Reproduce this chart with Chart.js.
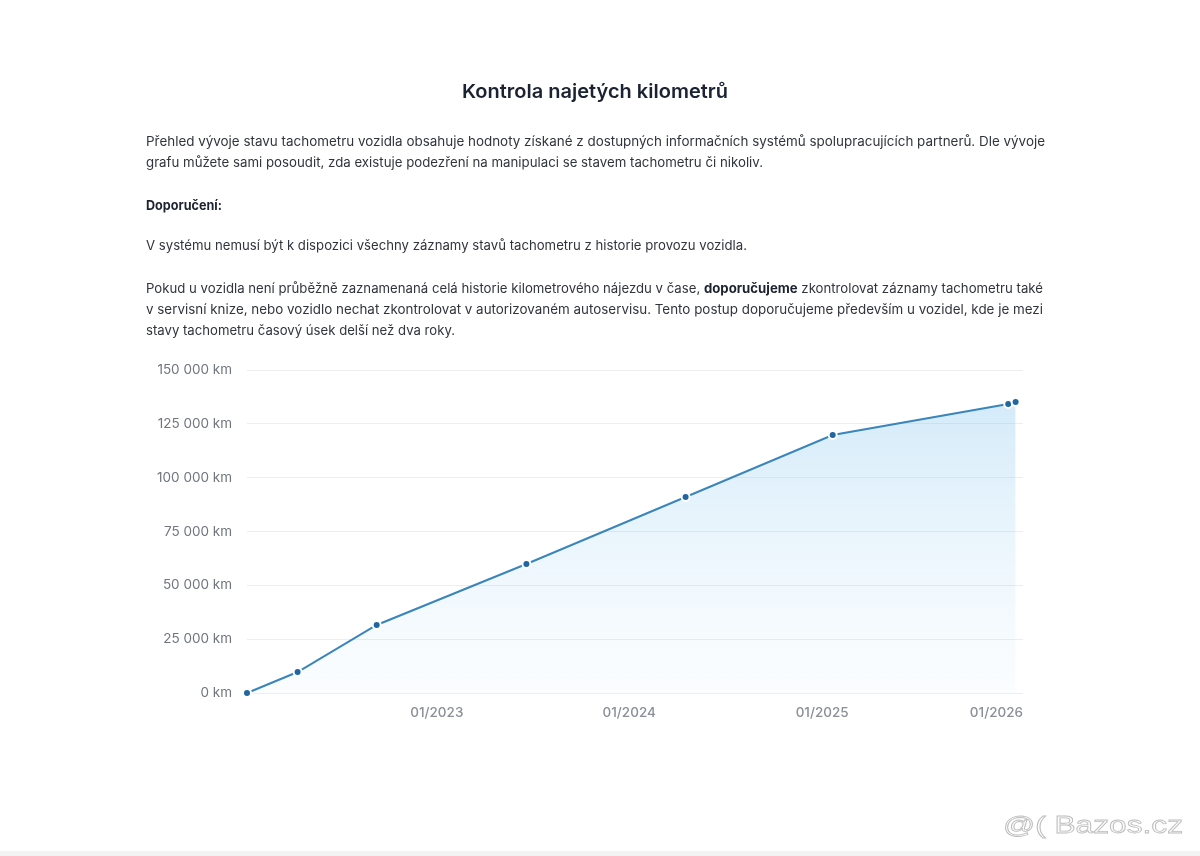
<!DOCTYPE html>
<html lang="cs">
<head>
<meta charset="utf-8">
<script src="https://cdn.jsdelivr.net/npm/chart.js@4.4.1/dist/chart.umd.min.js"></script>
<style>
  html, body { margin: 0; padding: 0; background: #ffffff; }
  body { width: 1200px; height: 856px; position: relative; overflow: hidden; font-family: Inter, "Noto Sans", sans-serif; }
  #chart { position: absolute; left: 0; top: 0; z-index: 1; }
  .ln { position: absolute; left: 146px; white-space: nowrap; font-size: 13px; line-height: 1; color: #30343c; transform-origin: 0 0; z-index: 2; display: inline-block; }
  .ln b { font-weight: 700; color: #1c2230; }
  #title { position: absolute; left: 462px; top: 82px; font-size: 19px; line-height: 1; font-weight: 600; color: #1b2232; white-space: nowrap; transform-origin: 0 0; display: inline-block; z-index: 2; }
  #wm { position: absolute; left: 1003px; top: 813px; font-family: "Liberation Sans", Arial, sans-serif; font-size: 24px; line-height: 1; color: #fbfbfb; -webkit-text-stroke: 0.8px #bdbdbd; white-space: nowrap; transform-origin: 0 0; display: inline-block; z-index: 2; }
  #strip { position: absolute; left: 0; top: 851px; width: 1200px; height: 5px; background: #f3f3f3; }
</style>
</head>
<body>
<canvas id="chart" width="1200" height="856"></canvas>

<div id="title" class="fit" data-w="266">Kontrola najetých kilometrů</div>

<div class="ln fit" data-w="899" style="top:135px">Přehled vývoje stavu tachometru vozidla obsahuje hodnoty získané z dostupných informačních systémů spolupracujících partnerů. Dle vývoje</div>
<div class="ln fit" data-w="617" style="top:156px">grafu můžete sami posoudit, zda existuje podezření na manipulaci se stavem tachometru či nikoliv.</div>
<div class="ln fit" data-w="76" style="top:199px"><b>Doporučení:</b></div>
<div class="ln fit" data-w="601" style="top:239px">V systému nemusí být k dispozici všechny záznamy stavů tachometru z historie provozu vozidla.</div>
<div class="ln fit" data-w="897" style="top:282px">Pokud u vozidla není průběžně zaznamenaná celá historie kilometrového nájezdu v čase, <b>doporučujeme</b> zkontrolovat záznamy tachometru také</div>
<div class="ln fit" data-w="897" style="top:303px">v servisní knize, nebo vozidlo nechat zkontrolovat v autorizovaném autoservisu. Tento postup doporučujeme především u vozidel, kde je mezi</div>
<div class="ln fit" data-w="309" style="top:324px">stavy tachometru časový úsek delší než dva roky.</div>

<div id="wm" class="fit" data-w="180">@( Bazos.cz</div>
<div id="strip"></div>

<script>
// ---- data ----
const readingDates = ['2022-01-06','2022-04-12','2022-09-09','2023-06-20','2024-04-17','2025-01-21','2025-12-20','2026-01-03'];
const odometerKm   = [0, 9750, 31600, 59900, 91000, 119800, 134200, 135100];
const xTickDates   = ['2023-01-01','2024-01-01','2025-01-01','2026-01-01'];
const xTickLabels  = ['01/2023','01/2024','01/2025','01/2026'];
const yTickValues  = [0, 25000, 50000, 75000, 100000, 125000, 150000];
const xRangeEnd    = '2026-01-17';

// ---- fit text lines to measured widths ----
document.querySelectorAll('.fit').forEach(el => {
  const w = el.getBoundingClientRect().width;
  const target = parseFloat(el.dataset.w);
  if (w > 0) el.style.transform = 'scaleX(' + (target / w) + ')';
});

const ts = s => Date.parse(s + 'T00:00:00Z');
const points = readingDates.map((d, i) => ({ x: ts(d), y: odometerKm[i] }));
const fmtKm = v => String(v).replace(/\B(?=(\d{3})+(?!\d))/g, ' ') + ' km';

const xLabelPlugin = {
  id: 'xLabels',
  afterDraw(chart) {
    const xs = chart.scales.x, area = chart.chartArea, ctx = chart.ctx;
    ctx.save();
    ctx.font = '500 13.5px Inter, sans-serif';
    ctx.fillStyle = '#8a8f98';
    ctx.textBaseline = 'middle';
    ctx.textAlign = 'left';
    xTickDates.forEach((d, i) => {
      const px = xs.getPixelForValue(ts(d));
      const w = ctx.measureText(xTickLabels[i]).width;
      let left = px - w / 2;
      if (left + w > area.right) left = area.right - w;
      ctx.fillText(xTickLabels[i], left, xs.top + 20);
    });
    ctx.restore();
  }
};

new Chart(document.getElementById('chart'), {
  type: 'line',
  data: {
    datasets: [{
      data: points,
      clip: 12,
      borderColor: '#3a85bb',
      borderWidth: 2,
      tension: 0,
      pointRadius: 4,
      pointBorderWidth: 2,
      pointBackgroundColor: '#1f66a2',
      pointBorderColor: '#ffffff',
      fill: 'origin',
      backgroundColor: (ctx) => {
        const area = ctx.chart.chartArea;
        if (!area) return 'rgba(120,190,235,0.2)';
        const g = ctx.chart.ctx.createLinearGradient(0, area.top, 0, area.bottom);
        g.addColorStop(0, 'rgba(95,178,232,0.30)');
        g.addColorStop(0.5, 'rgba(120,192,238,0.16)');
        g.addColorStop(1, 'rgba(170,215,245,0.05)');
        return g;
      }
    }]
  },
  options: {
    responsive: false,
    devicePixelRatio: 1,
    animation: false,
    events: [],
    layout: { padding: { left: 140, top: 370, right: 177, bottom: 133 } },
    plugins: { legend: { display: false }, tooltip: { enabled: false } },
    scales: {
      x: {
        type: 'linear',
        min: ts(readingDates[0]),
        max: ts(xRangeEnd),
        grid: { display: false },
        border: { display: false },
        ticks: { display: false },
        afterFit: (s) => { s.height = 30; }
      },
      y: {
        min: yTickValues[0],
        max: yTickValues[yTickValues.length - 1],
        afterBuildTicks: (s) => { s.ticks = yTickValues.map(v => ({ value: v })); },
        grid: { color: '#eceef2', lineWidth: 1, drawTicks: false },
        border: { display: false },
        ticks: {
          padding: 15,
          color: '#70757e',
          font: { family: 'Inter', size: 13.5 },
          callback: (v) => fmtKm(v)
        },
        afterFit: (s) => { s.width = 107; }
      }
    }
  },
  plugins: [xLabelPlugin]
});
</script>
</body>
</html>
